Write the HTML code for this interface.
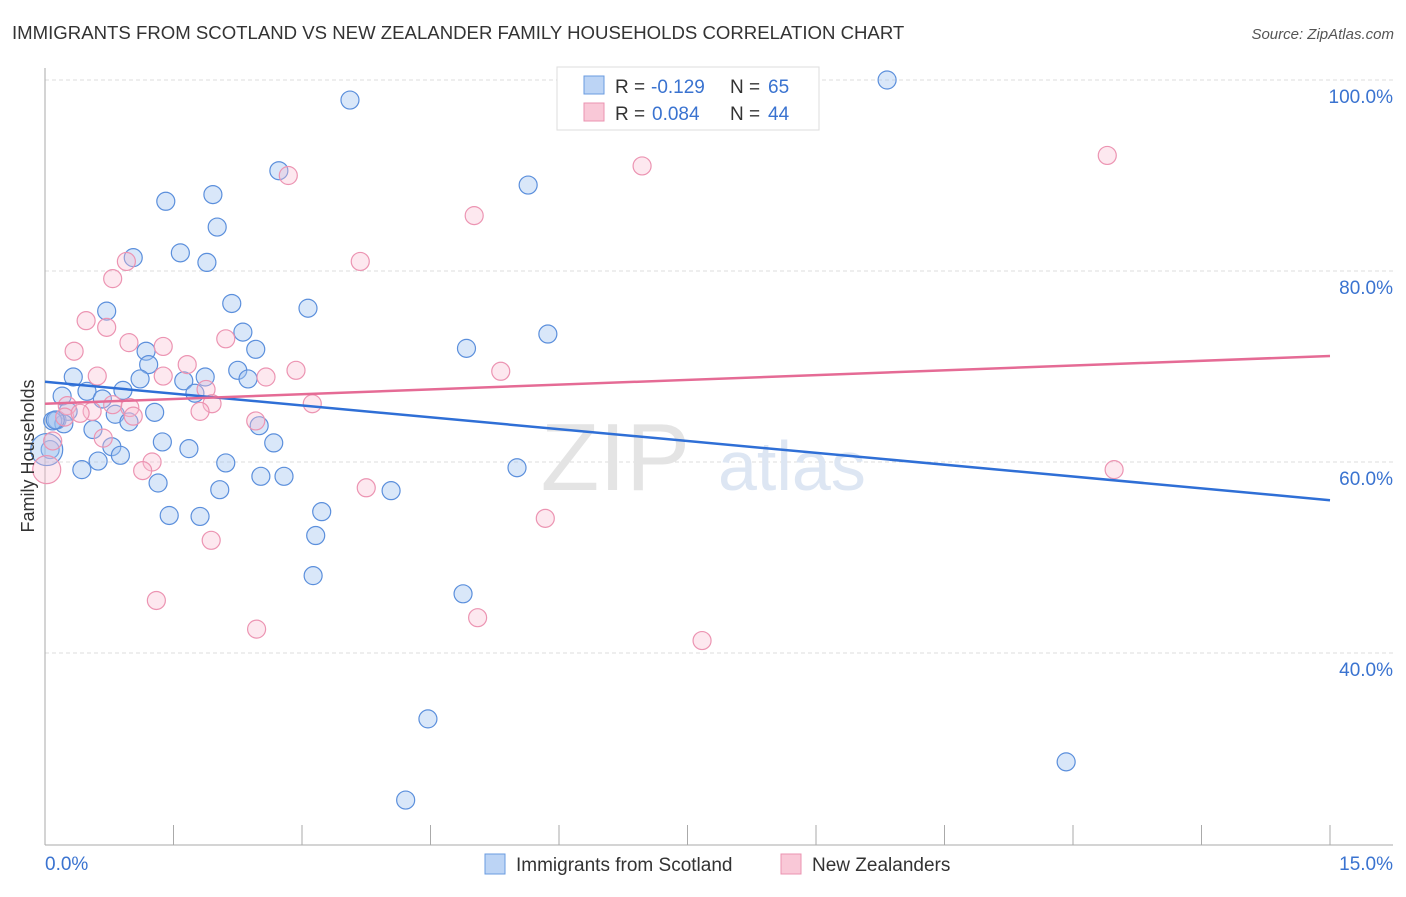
<!DOCTYPE html>
<html><head><meta charset="utf-8"><style>
body{margin:0;background:#fff;font-family:"Liberation Sans",sans-serif;}
svg text{font-family:"Liberation Sans",sans-serif;}
</style></head><body>
<svg id="chart" width="1406" height="892">
<text x="12" y="39" font-size="18.6" fill="#333">IMMIGRANTS FROM SCOTLAND VS NEW ZEALANDER FAMILY HOUSEHOLDS CORRELATION CHART</text>
<text x="1394" y="39" font-size="15" fill="#555" text-anchor="end" font-style="italic">Source: ZipAtlas.com</text>
<g id="grid"></g>
<text x="690" y="490" font-size="96" fill="#e4e4e4" font-family="Liberation Serif" text-anchor="end">ZIP</text>
<text x="718" y="490" font-size="70" fill="#dde6f3">atlas</text>
<g id="marks"></g>
<text transform="translate(34,456) rotate(-90)" font-size="18" fill="#333" text-anchor="middle">Family Households</text>
<g>
<rect x="557" y="67" width="262" height="63" fill="#fff" stroke="#ddd"/>
<rect x="584" y="76" width="20" height="18" fill="#bcd4f5" stroke="#6a9be0"/>
<rect x="584" y="103" width="20" height="18" fill="#f9c8d7" stroke="#eb93b0"/>
<text x="615" y="93" font-size="19" fill="#333">R =</text>
<text x="651" y="93" font-size="19" fill="#3a73d0">-0.129</text>
<text x="730" y="93" font-size="19" fill="#333">N =</text>
<text x="768" y="93" font-size="19" fill="#3a73d0">65</text>
<text x="615" y="120" font-size="19" fill="#333">R =</text>
<text x="652" y="120" font-size="19" fill="#3a73d0">0.084</text>
<text x="730" y="120" font-size="19" fill="#333">N =</text>
<text x="768" y="120" font-size="19" fill="#3a73d0">44</text>
</g>
<g>
<rect x="485" y="854" width="20" height="20" fill="#bcd4f5" stroke="#6a9be0"/>
<text x="516" y="871" font-size="19" fill="#333">Immigrants from Scotland</text>
<rect x="781" y="854" width="20" height="20" fill="#f9c8d7" stroke="#eb93b0"/>
<text x="812" y="871" font-size="19" fill="#333">New Zealanders</text>
</g>
</svg>
<script>
const xTicks=[0,15];
const xTickLabels=["0.0%","15.0%"];
const yTicks=[40,60,80,100];
const yTickLabels=["40.0%","60.0%","80.0%","100.0%"];
const blueX=[9.83,3.56,2.73,5.64,1.96,1.41,2.01,1.58,1.89,1.03,2.18,3.07,0.72,2.31,5.87,2.46,4.92,1.18,1.21,2.25,1.11,1.87,1.62,2.37,0.33,1.75,0.49,0.91,0.2,0.67,1.28,0.27,0.82,0.98,0.14,0.22,0.09,0.56,2.5,1.37,2.67,1.68,0.78,0.88,0.06,0.62,0.43,2.11,5.51,2.52,2.79,2.04,4.04,1.32,3.23,1.45,1.81,3.16,3.13,4.88,4.47,11.92,4.21,0.02,0.12];
const blueY=[100,97.9,90.5,89.0,88.0,87.3,84.6,81.9,80.9,81.4,76.6,76.1,75.8,73.6,73.4,71.8,71.9,71.6,70.2,69.6,68.7,68.9,68.5,68.7,68.9,67.2,67.4,67.5,66.9,66.6,65.2,65.3,65.0,64.2,64.4,64.0,64.3,63.4,63.8,62.1,62.0,61.4,61.6,60.7,61.3,60.1,59.2,59.9,59.4,58.5,58.5,57.1,57.0,57.8,54.8,54.4,54.3,52.3,48.1,46.2,33.1,28.6,24.6,61.3,64.4];
const blueR=[9,9,9,9,9,9,9,9,9,9,9,9,9,9,9,9,9,9,9,9,9,9,9,9,9,9,9,9,9,9,9,9,9,9,9,9,9,9,9,9,9,9,9,9,9,9,9,9,9,9,9,9,9,9,9,9,9,9,9,9,9,9,9,16,9];
const pinkX=[12.4,6.97,2.84,5.01,3.68,0.95,0.79,0.48,0.72,2.11,0.98,0.34,1.38,1.66,2.93,5.32,1.38,0.61,2.58,1.88,1.95,3.12,0.99,0.26,0.55,1.81,0.79,1.03,2.46,0.23,0.68,0.09,1.25,1.14,12.48,3.75,5.84,1.94,1.3,5.05,2.47,7.67,0.02,0.41];
const pinkY=[92.1,91.0,90.0,85.8,81.0,81.0,79.2,74.8,74.1,72.9,72.5,71.6,72.1,70.2,69.6,69.5,69.0,69.0,68.9,67.6,66.1,66.1,65.7,65.9,65.3,65.3,66.0,64.8,64.3,64.7,62.5,62.2,60.0,59.1,59.2,57.3,54.1,51.8,45.5,43.7,42.5,41.3,59.2,65.1];
const pinkR=[9,9,9,9,9,9,9,9,9,9,9,9,9,9,9,9,9,9,9,9,9,9,9,9,9,9,9,9,9,9,9,9,9,9,9,9,9,9,9,9,9,9,14,9];
const blueTrend=[68.4,56.0];
const pinkTrend=[66.1,71.1];
const X0=45,X1=1330,Y100=80,PX20=191;
const sx=v=>X0+(v-0)/15*(X1-X0);
const sy=v=>Y100+(100-v)/20*PX20;
const NS="http://www.w3.org/2000/svg";
const grid=document.getElementById('grid'),marks=document.getElementById('marks');
function mk(tag,attrs,parent){const e=document.createElementNS(NS,tag);for(const k in attrs)e.setAttribute(k,attrs[k]);parent.appendChild(e);return e;}
yTicks.forEach((t,i)=>{
 const l=mk('line',{x1:X0,x2:1393,y1:sy(t),y2:sy(t),stroke:'#dcdcdc','stroke-dasharray':'4,3'},grid);
 
 
 const tx=mk('text',{x:1393,y:sy(t)+23,'font-size':19,fill:'#3a73d0','text-anchor':'end'},grid);
 tx.textContent=yTickLabels[i];
 
 
});
const ax=mk('line',{x1:X0,x2:X0,y1:68,y2:845,stroke:'#aaa'},grid);


const bx=mk('line',{x1:X0,x2:1393,y1:845,y2:845,stroke:'#aaa'},grid);


for(let i=0;i<=10;i++){const v=i*1.5;const t=mk('line',{x1:sx(v),x2:sx(v),y1:825,y2:845,stroke:'#aaa'},grid);
 
 }
xTicks.forEach((t,i)=>{const tx=mk('text',{x:i==0?45:1393,y:870,'font-size':19,fill:'#3a73d0','text-anchor':i==0?'start':'end'},grid);
 tx.textContent=xTickLabels[i];
 
 });
blueX.forEach((v,i)=>{const c=mk('circle',{cx:sx(v),cy:sy(blueY[i]),r:blueR[i],fill:'rgba(160,195,240,0.4)',stroke:'#5b8fdc','stroke-width':1.2},marks);
 
 });
pinkX.forEach((v,i)=>{const c=mk('circle',{cx:sx(v),cy:sy(pinkY[i]),r:pinkR[i],fill:'rgba(248,190,210,0.35)',stroke:'#ec94b2','stroke-width':1.2},marks);
 
 });
const bl=mk('line',{x1:sx(0),y1:sy(blueTrend[0]),x2:sx(15),y2:sy(blueTrend[1]),stroke:'#2f6fd6','stroke-width':2.5},marks);


const pl=mk('line',{x1:sx(0),y1:sy(pinkTrend[0]),x2:sx(15),y2:sy(pinkTrend[1]),stroke:'#e56b95','stroke-width':2.5},marks);


</script>
</body></html>
